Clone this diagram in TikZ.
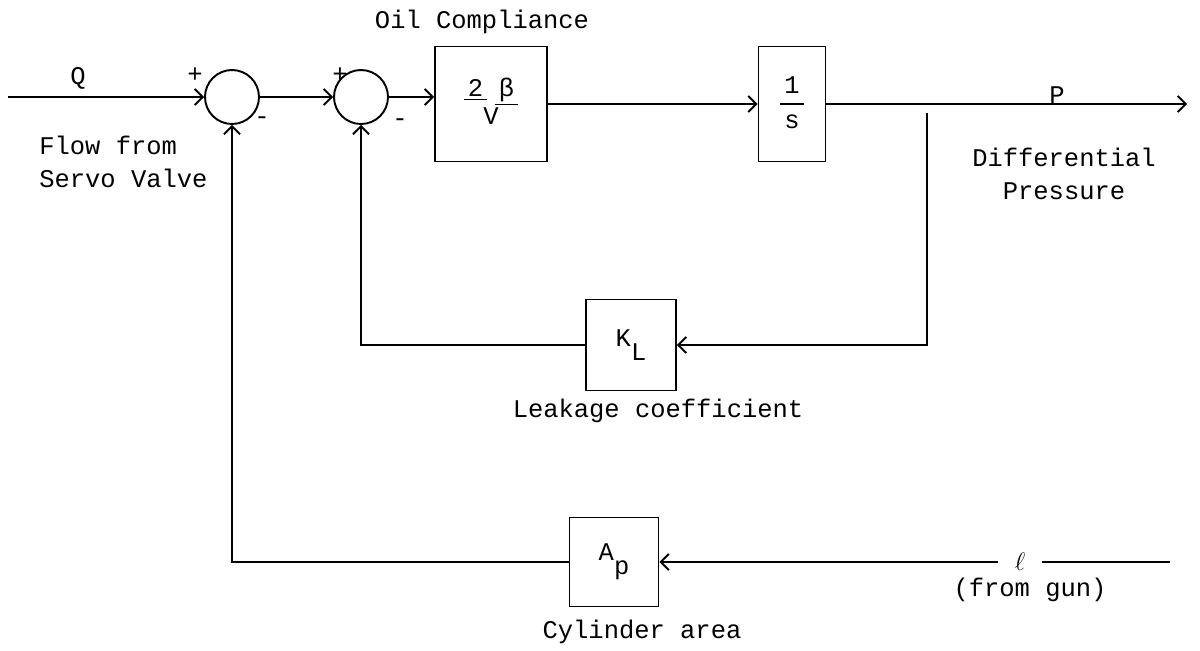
\documentclass[tikz,border=0pt]{standalone}
\usepackage{fontspec}
\setmainfont{Liberation Mono}
\usetikzlibrary{positioning, arrows.meta}

\tikzset{
  txt/.style={font=\fontsize{14.5}{19}\selectfont, inner sep=0pt},
  block/.style={draw, line width=1.1pt, inner sep=0pt, txt},
  summer/.style={draw, circle, line width=1.1pt, minimum size=1.08cm, inner sep=0pt},
  wire/.style={line width=1.1pt},
  sig/.style={wire, -{Straight Barb[length=1.6mm,width=3.2mm]}},
}

\begin{document}
\begin{tikzpicture}[x=0.02cm, y=-0.02cm]
    \useasboundingbox (0,0) rectangle (1200,650);
    % summing points
    \node[summer] (sum1) at (232,97) {};
    \node[summer] (sum2) at (361,97) {};
    % forward path
    \node[block, minimum width=2.24cm, minimum height=2.3cm] (comp) at (491,104)
      {\begin{tabular}{@{}c@{}}\underline{\,2\,}\;\underline{\,β\,}\\[-3pt]V\end{tabular}};
    \node[block, minimum width=1.34cm, minimum height=2.3cm] (integ) at (792,104)
      {\setlength{\arrayrulewidth}{1pt}\begin{tabular}{@{\,}c@{\,}}1\\\hline s\end{tabular}};
    % feedback blocks
    \node[block, minimum width=1.8cm, minimum height=1.82cm] (leak) at (631,345) {K\raisebox{-0.55em}{L}};
    \node[block, minimum width=1.78cm, minimum height=1.78cm] (area) at (614,562) {A\raisebox{-0.55em}{p}};
    \coordinate (qin) at (8,97);
    \coordinate (pout) at (1187,104);
    \coordinate (tap) at (927,113);
    \coordinate (gun) at (1170,562);
    \node[txt, inner xsep=0.32cm] (ell) at (1020,562) {$\ell$};
    % labels
    \node[txt] (qlbl) at (78,78) {Q};
    \node[txt] (plus1) at (195,75) {+};
    \node[txt] (minus1) at (262,121) {-};
    \node[txt] (plus2) at (340,75) {+};
    \node[txt] (minus2) at (400,123) {-};
    \node[txt, anchor=west, align=left] (flowlbl) at (39,162) {Flow from\\Servo Valve};
    \node[txt] (oillbl) at (482,22) {Oil Compliance};
    \node[txt] (plbl) at (1057,95) {P};
    \node[txt, align=center] (dplbl) at (1064,174) {Differential\\Pressure};
    \node[txt] (leaklbl) at (658,411) {Leakage coefficient};
    \node[txt] (arealbl) at (642,632) {Cylinder area};
    \node[txt] (gunlbl) at (1030,590) {(from gun)};
    % connections
    \draw[sig] (qin) -- (sum1.west);
    \draw[sig] (sum1.east) -- (sum2.west);
    \draw[sig] (sum2.east) -- (sum2.east -| comp.west);
    \draw[sig] (comp.east) -- (integ.west);
    \draw[sig] (integ.east) -- (pout);
    \draw[sig] (tap) |- (leak.east);
    \draw[sig] (leak.west) -| (sum2.south);
    \draw[wire] (gun) -- (ell.east);
    \draw[sig] (ell.west) -- (area.east);
    \draw[sig] (area.west) -| (sum1.south);
\end{tikzpicture}
\end{document}
